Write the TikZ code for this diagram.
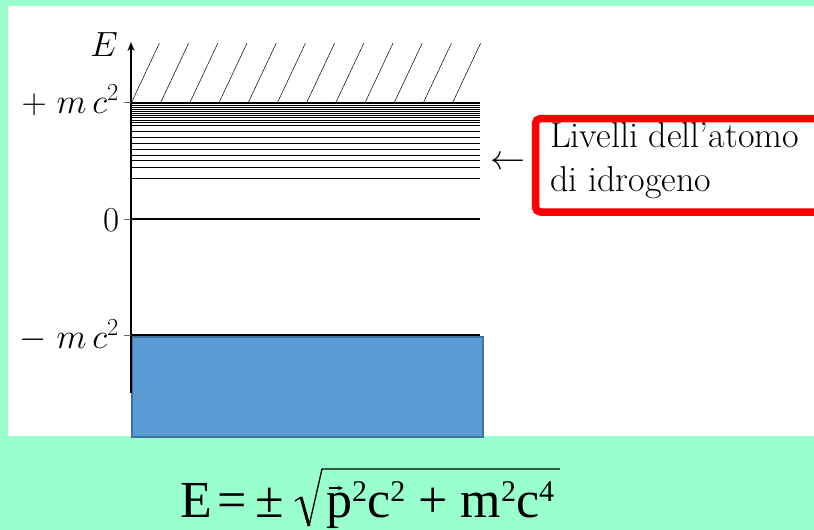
\RequirePackage{fix-cm}
\documentclass[tikz,border=0pt]{standalone}
\usepackage{fontspec}
\newfontfamily\libserif{Liberation Serif}
\usetikzlibrary{arrows.meta}
\definecolor{bgg}{RGB}{153,255,204}
\definecolor{boxblue}{RGB}{91,155,213}
\definecolor{boxedge}{RGB}{65,113,156}
\newcommand\supx[1]{\raisebox{16pt}{\fontsize{30}{32}\selectfont #1}}
\begin{document}
\begin{tikzpicture}[x=1pt,y=-1pt,
  lab/.style={inner sep=0pt, font=\fontsize{35}{42}\selectfont},
  txt/.style={inner sep=0pt, font=\fontsize{36}{42}\selectfont},
  lev/.style={line width=1pt},
  tickmark/.style={line width=0.6pt, black!60},
  frm/.style={inner sep=0pt, font=\libserif\fontsize{52}{60}\selectfont}]
\useasboundingbox (0,0) rectangle (814,530);
\fill[bgg] (0,0) rectangle (814,530);
\fill[white] (8,6) rectangle (814,436);
% hatching above +mc^2
\foreach \i in {0,...,11}
  \draw[line width=0.5pt] ({131.4+29.2*\i},102.7) -- ++(28,-59.5);
% hydrogen levels
\foreach \y in {105,107.3,109.3,111.3,113.3,115.7,117.7,120,122.3,125.7,131.3,137.7,143.3,149.3,155.3,160.7,167,178.7}
  \draw[lev] (131,\y) -- (480,\y);
\draw[line width=1.6pt] (131,102.7) -- (480,102.7);
\draw[line width=1.4pt] (131,219) -- (480,219);
\draw[line width=1.4pt] (131,335) -- (480,335);
% negative continuum
\draw[fill=boxblue, draw=boxedge, line width=2pt] (132,337) rectangle (483,437);
% axis
\coordinate (axb) at (131,393);
\coordinate (axt) at (131,42);
\draw[line width=1.6pt, -{Stealth[length=9pt,width=7pt]}] (axb) -- (axt);
\foreach \y in {102.7,219,335}
  \draw[tickmark] (124,\y) -- (131,\y);
% labels
\node[lab, anchor=base east] (E) at (118,56) {$E$};
\node[lab, anchor=base east] (pmc) at (119,113) {$+\;m\,c^2$};
\node[lab, anchor=base east] (zero) at (119.5,231) {$0$};
\node[lab, anchor=base east] (mmc) at (119,348) {$-\;m\,c^2$};
% hydrogen label
\node[lab, anchor=base west] (arr) at (490,169) {$\leftarrow$};
\node[txt, anchor=base west] (l1) at (550,147.3) {Livelli dell'atomo};
\node[txt, anchor=base west] (l2) at (550,191.7) {di idrogeno};
\draw[red, line width=7.5pt, rounded corners=5pt] (814,118.5) -- (535.5,118.5) -- (535.5,212) -- (814,212);
% formula
\node[frm, anchor=base west] (fE) at (180,517) {E};
\node[frm, anchor=base west] (feq) at (217,517) {=};
\node[frm, anchor=base west] (fpm) at (255,517) {±};
\node[frm, anchor=base west] (rad) at (326,517) {p\supx{2}c\supx{2} + m\supx{2}c\supx{4}};
\draw[line width=1.3pt, -{Stealth[length=5pt,width=4.5pt]}] (329,488) -- (343,488);
\draw[line width=1.3pt] (295,501) -- (301,497);
\draw[line width=3pt] (301,497) -- (309,526);
\draw[line width=1.3pt, line join=miter] (309,526) -- (322,469) -- (560,469);
\end{tikzpicture}
\end{document}
